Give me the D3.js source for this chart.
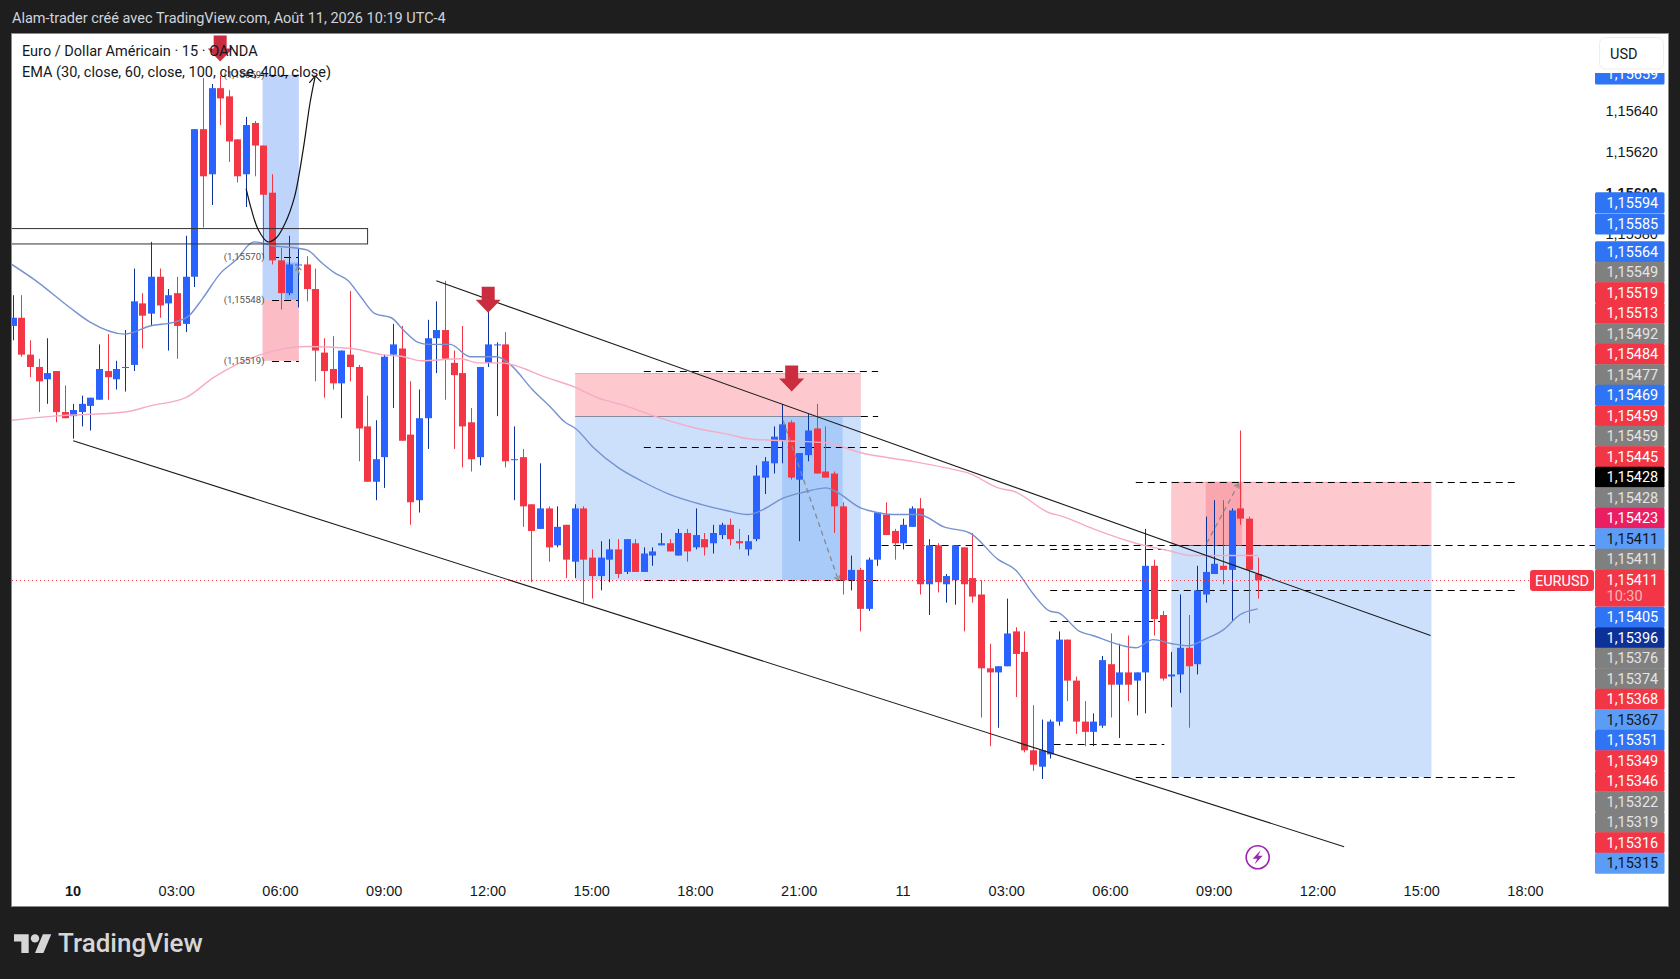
<!DOCTYPE html>
<html>
<head>
<meta charset="utf-8">
<script src="https://cdn.jsdelivr.net/npm/d3@7"></script>
<style>
  html, body { margin: 0; padding: 0; background: #1e1e1e; }
  svg { display: block; font-family: Roboto, sans-serif; }
  .tick text { fill: #131722; font-size: 14.5px; }
  .tick.major text { font-weight: 700; }
</style>
</head>
<body>
<div id="chart"></div>
<script>
// prices are in points: 15535 means 1,15535
var firstBar = -7;

var opens = [
  15535,15539,15521,15515,15509,15513,15493,15491,15493,15496,
  15499,15513,15509,15515,15516,15546,15541,15559,15546,15551,
  15536,15559,15631,15609,15651,15647,15626,15609,15634,15623,
  15600,15567,15551,15565,15565,15553,15522,15514,15507,15521,
  15515,15486,15459,15471,15521,15524,15482,15450,15490,15529,
  15533,15517,15512,15488,15471,15517,15526,15526,15470,15471,
  15448,15436,15446,15428,15438,15420,15446,15422,15413,15421,
  15426,15415,15429,15415,15423,15428,15429,15423,15434,15427,
  15431,15429,15433,15438,15430,15426,15431,15461,15468,15479,
  15488,15460,15472,15485,15464,15463,15447,15411,15416,15397,
  15421,15443,15435,15429,15437,15446,15409,15428,15409,15411,
  15427,15412,15404,15368,15366,15369,15386,15376,15328,15320,
  15326,15342,15382,15362,15342,15337,15340,15370,15360,15366,
  15362,15366,15418,15394,15364,15365,15378,15370,15404,15414,
  15418,15416,15446,15441,15414];
var highs = [
  15550,15550,15528,15519,15529,15513,15506,15497,15501,15500,
  15526,15531,15518,15533,15563,15551,15576,15563,15553,15559,
  15579,15631,15656,15653,15657,15650,15626,15637,15635,15623,
  15609,15573,15579,15573,15569,15563,15529,15530,15523,15552,
  15516,15501,15489,15521,15536,15535,15508,15504,15538,15547,
  15557,15523,15535,15495,15515,15542,15527,15532,15486,15475,
  15448,15468,15447,15447,15438,15448,15447,15426,15430,15431,
  15431,15431,15431,15427,15427,15434,15431,15436,15436,15446,
  15434,15438,15439,15441,15436,15433,15467,15471,15486,15497,
  15489,15473,15492,15497,15486,15464,15449,15423,15417,15422,
  15444,15449,15436,15441,15447,15451,15431,15429,15414,15428,
  15427,15434,15411,15380,15369,15402,15388,15386,15350,15343,
  15343,15386,15382,15364,15352,15346,15374,15385,15380,15384,
  15366,15436,15421,15396,15376,15404,15394,15418,15442,15450,
  15450,15446,15484,15442,15422];
var lows = [
  15528,15520,15510,15493,15497,15488,15490,15480,15486,15484,
  15499,15499,15504,15503,15513,15524,15535,15539,15523,15519,
  15532,15554,15583,15594,15633,15615,15605,15593,15608,15568,
  15565,15543,15550,15544,15547,15508,15500,15504,15490,15508,
  15469,15459,15450,15456,15495,15479,15438,15444,15475,15512,
  15499,15475,15466,15464,15467,15515,15491,15466,15450,15437,
  15410,15436,15420,15427,15412,15412,15400,15402,15406,15410,
  15412,15414,15415,15415,15418,15428,15425,15423,15420,15426,
  15423,15424,15431,15428,15426,15423,15430,15453,15463,15468,
  15460,15430,15469,15463,15461,15434,15404,15406,15386,15396,
  15418,15433,15421,15426,15437,15404,15394,15405,15400,15399,
  15386,15400,15344,15330,15339,15369,15354,15327,15318,15314,
  15324,15340,15352,15336,15330,15330,15339,15344,15334,15352,
  15345,15346,15384,15362,15349,15356,15339,15365,15400,15414,
  15409,15391,15438,15390,15402];
var closes = [
  15539,15521,15515,15508,15512,15493,15490,15494,15497,15500,
  15514,15510,15514,15515,15547,15540,15559,15545,15550,15535,
  15559,15631,15608,15651,15646,15625,15608,15633,15623,15599,
  15567,15551,15565,15565,15553,15523,15513,15507,15523,15515,
  15485,15459,15470,15520,15526,15479,15449,15490,15529,15533,
  15519,15511,15486,15470,15515,15526,15526,15469,15470,15447,
  15435,15446,15427,15437,15421,15446,15421,15413,15422,15426,
  15414,15431,15415,15424,15425,15429,15425,15434,15425,15433,
  15427,15434,15438,15431,15429,15430,15462,15469,15481,15487,
  15461,15473,15484,15463,15461,15447,15411,15416,15397,15421,
  15444,15433,15429,15438,15446,15409,15428,15410,15413,15428,
  15409,15403,15368,15366,15369,15385,15375,15328,15321,15328,
  15342,15382,15362,15342,15337,15342,15372,15360,15366,15360,
  15366,15418,15392,15363,15365,15378,15369,15406,15415,15419,
  15416,15445,15441,15416,15411];

// EMA lines at these bars
var emaFastBars = [-7.1,-4.3,-0.4,1.9,6,8.9,11.8,13.4,14.9,17.1,18.8,20.9,23.3,25.8,27.1,28.7,30.2,31.8,33.3,34.9,36.8,38.2,39.9,41.1,43.6,45.9,49,50.6,53.1,55.3,56.9,58.1,60.1,63,65.9,68.9,72.6,75.5,78,79.6,82.1,84.6,87.1,88.3,91.2,92,94.9,97.8,100.7,103.7,107,109,111.1,112.9,114,116.4,117.9,122.9,124.9,127.1,129,130.8,133.1,134.9,137];
var emaFastValues = [15565,15557,15544,15537,15531,15535,15537,15540,15548,15561,15567,15576,15574,15573,15572,15566,15561,15557,15549,15541,15539,15533,15527,15526,15526,15520,15520,15516,15504,15495,15488,15485,15476,15466,15459,15453,15448,15445,15443,15445,15451,15454,15456,15454,15446,15445,15443,15443,15437,15434,15421,15416,15404,15396,15395,15386,15384,15378,15382,15380,15379,15382,15387,15394,15397];
var emaSlowBars = [-7.1,-2.3,6,8.9,13,16.3,18.8,21.7,27,32.2,35.7,38.2,40.3,44.8,46.9,49.4,52.3,54,58.1,60.6,63.9,67.2,72.2,75.9,78,82.1,87.1,91.2,97,100.7,103.7,107,109,112.8,114.5,118,122.9,127.1,129.2,133.3,137];
var emaSlowValues = [15489,15491,15493,15496,15500,15510,15516,15521,15525,15524,15521,15520,15518,15519,15517,15517,15514,15511,15505,15500,15496,15491,15485,15482,15480,15479,15478,15473,15469,15466,15463,15456,15454,15444,15442,15436,15429,15425,15423,15423,15423];

var timeTickBars = [0,12,24,36,48,60,72,84,96,108,120,132,144,156,168];
var timeTickLabels = ["10","03:00","06:00","09:00","12:00","15:00","18:00","21:00","11","03:00","06:00","09:00","12:00","15:00","18:00"];
var priceTicks = [15640,15620,15600,15580];

// order of the price tags on the right, top to bottom
var tagPricesTop = [15594,15585];
var tagColorsTop = ["#2e74f5","#2e74f5"];
var tagPrices = [15564,15549,15519,15513,15492,15484,15477,15469,15459,15459,15445,15428,15428,15423,15411,15411,15411,15405,15396,15376,15374,15368,15367,15351,15349,15346,15322,15319,15316,15315];
var tagColors = ["#2e74f5","#808080","#f23645","#f23645","#808080","#f23645","#808080","#2e74f5","#f23645","#808080","#f23645","#000000","#808080","#e91e63","#5b9cf6","#808080","#f23645","#2e74f5","#0c3299","#808080","#808080","#f23645","#5b9cf6","#2e74f5","#f23645","#f23645","#808080","#808080","#f23645","#5b9cf6"];

// first box: printed labels and the heights they sit at on the picture
var boxLabels = ["(1,15659)","(1,15570)","(1,15548)","(1,15519)"];
var boxLabelLevels = [15657.6,15568.8,15547.7,15518];

var curvePriceBars = [20,20.6,21.4,22.5,23.5,24.5,25.6,26.6,27.4,28];
var curvePrices = [15602,15592,15582,15576,15578,15585,15598,15621,15644,15657];

var svgWidth = 1680;
var svgHeight = 979;
var plot = { left: 12, top: 34, right: 1595, bottom: 906, edge: 1668 };

var svg = d3.select("#chart").append("svg")
  .attr("width", svgWidth)
  .attr("height", svgHeight);

var x = d3.scaleLinear().domain([0, 168]).range([73.2, 1525.7]);
var y = d3.scaleLinear().domain([15640, 15620]).range([110.7, 151.7]);
var fmt = function(p) { return (1 + p / 100000).toFixed(5).replace(".", ","); };

// page furniture
svg.append("rect").attr("x", plot.left - 0.5).attr("y", plot.top - 0.5)
  .attr("width", plot.edge - plot.left + 1).attr("height", plot.bottom - plot.top + 1)
  .attr("fill", "#fff").attr("stroke", "#8a8a8a");

svg.append("text").attr("x", 12).attr("y", 22.5)
  .attr("fill", "#d1d4dc").attr("font-size", 14.5)
  .text("Alam-trader créé avec TradingView.com, Août 11, 2026 10:19 UTC-4");

svg.append("clipPath").attr("id", "plotClip").append("rect")
  .attr("x", plot.left).attr("y", plot.top)
  .attr("width", plot.right - plot.left).attr("height", plot.bottom - plot.top);

var g = svg.append("g").attr("clip-path", "url(#plotClip)");

function box(b0, b1, p0, p1, color) {
  g.append("rect")
    .attr("x", x(b0)).attr("width", x(b1) - x(b0))
    .attr("y", y(p0)).attr("height", y(p1) - y(p0))
    .attr("fill", color);
}
function hline(b0, b1, p, color, dash) {
  g.append("line")
    .attr("x1", x(b0)).attr("x2", x(b1))
    .attr("y1", Math.round(y(p)) + 0.5).attr("y2", Math.round(y(p)) + 0.5)
    .attr("stroke", color || "#000")
    .attr("stroke-dasharray", dash === undefined ? "7 5" : dash);
}

// position boxes
box(21.9, 26.1, 15657.6, 15547.7, "#bfd4fb");
box(24.5, 26.1, 15566, 15547.7, "#8fb6f8");
box(21.9, 26.1, 15547.7, 15518, "#fbbcc5");

box(58.06, 91.1, 15512, 15491, "#fdc8ce");
box(58.06, 91.1, 15491, 15411, "#cce0fc");
box(82, 89, 15491, 15411, "#a8cbfa");
hline(58.06, 91.1, 15512, "#fba4b0", null);
hline(58.06, 91.1, 15491, "#858a9c", null);

box(127, 157.1, 15459, 15428, "#fdc8ce");
box(131, 135.2, 15459, 15428, "#f9a6ae");
box(127, 157.1, 15428, 15315, "#cce0fc");
hline(127, 157.1, 15459, "#fba4b0", null);
hline(127, 157.1, 15428, "#555a6c", null);

// dashed levels of the boxes
[[23, 26.1, 15568.8], [23, 26.1, 15547.7], [23, 26.1, 15518], [19.9, 26.1, 15657.6],
 [66, 93.1, 15513], [91.1, 93.1, 15491], [66, 93.1, 15476], [66, 93.1, 15411],
 [122.9, 166.9, 15459], [93.5, 178.6, 15428], [113, 126.5, 15426], [113, 126.2, 15406],
 [122.9, 166.9, 15406], [113, 126.2, 15391], [113.4, 126.2, 15331], [122.9, 166.9, 15315]
].forEach(function(d) { hline(d[0], d[1], d[2]); });

// candles
var bars = opens.map(function(o, i) {
  return { bar: i + firstBar, o: o, h: highs[i], l: lows[i], c: closes[i] };
});
var candle = g.append("g").selectAll("g").data(bars).enter().append("g");

candle.append("line")
  .attr("x1", function(d) { return Math.round(x(d.bar)) + 0.5; })
  .attr("x2", function(d) { return Math.round(x(d.bar)) + 0.5; })
  .attr("y1", function(d) { return y(d.h); })
  .attr("y2", function(d) { return y(d.l); })
  .attr("stroke", function(d) { return d.c >= d.o ? "#0c3299" : "#f23645"; });

candle.append("rect")
  .attr("x", function(d) { return Math.round(x(d.bar)) - 3; })
  .attr("width", 7)
  .attr("y", function(d) { return y(Math.max(d.o, d.c)); })
  .attr("height", function(d) { return Math.max(1, Math.abs(y(d.o) - y(d.c))); })
  .attr("fill", function(d) { return d.c >= d.o ? "#2962ff" : "#f23645"; });

// EMA lines
var emaLine = d3.line()
  .x(function(d) { return x(d[0]); })
  .y(function(d) { return y(d[1]); })
  .curve(d3.curveMonotoneX);

g.append("path")
  .attr("d", emaLine(emaFastBars.map(function(b, i) { return [b, emaFastValues[i]]; })))
  .attr("fill", "none").attr("stroke", "#7492cf").attr("stroke-width", 1.4);
g.append("path")
  .attr("d", emaLine(emaSlowBars.map(function(b, i) { return [b, emaSlowValues[i]]; })))
  .attr("fill", "none").attr("stroke", "#f6abc4").attr("stroke-width", 1.4);

// last price line
hline(-8, 170.5, 15411, "#f23645", "1 3");

// trend lines and drawn rectangle
[[42, 15557, 157, 15384], [0, 15479, 147, 15281]].forEach(function(d) {
  g.append("line")
    .attr("x1", x(d[0])).attr("y1", y(d[1]))
    .attr("x2", x(d[2])).attr("y2", y(d[3]))
    .attr("stroke", "#1a1a1a").attr("stroke-width", 1.1);
});
g.append("rect")
  .attr("x", plot.left - 2).attr("width", x(34.05) - plot.left + 2)
  .attr("y", y(15582.5)).attr("height", y(15575) - y(15582.5))
  .attr("fill", "none").attr("stroke", "#333");

// dashed projections
function projection(b0, p0, b1, p1) {
  g.append("line")
    .attr("x1", x(b0)).attr("y1", y(p0)).attr("x2", x(b1)).attr("y2", y(p1))
    .attr("stroke", "#8a8a8a").attr("stroke-width", 1.3).attr("stroke-dasharray", "5 4");
  var a = Math.atan2(y(p1) - y(p0), x(b1) - x(b0));
  [-0.6, 0.6].forEach(function(t) {
    g.append("line")
      .attr("x1", x(b1)).attr("y1", y(p1))
      .attr("x2", x(b1) - 5 * Math.cos(a + t)).attr("y2", y(p1) - 5 * Math.sin(a + t))
      .attr("stroke", "#8a8a8a").attr("stroke-width", 1.3);
  });
}
projection(82.1, 15489, 88.5, 15411);
projection(131.1, 15429, 134.8, 15458);
projection(26.15, 15560, 25.95, 15564);

// hand drawn curve with arrow head
var curve = d3.line()
  .x(function(d) { return x(d[0]); })
  .y(function(d) { return y(d[1]); })
  .curve(d3.curveCatmullRom);
g.append("path")
  .attr("d", curve(curvePriceBars.map(function(b, i) { return [b, curvePrices[i]]; })))
  .attr("fill", "none").attr("stroke", "#111").attr("stroke-width", 1.2);
[[-6, 7], [6, 6]].forEach(function(d) {
  g.append("line")
    .attr("x1", x(28)).attr("y1", y(15657))
    .attr("x2", x(28) + d[0]).attr("y2", y(15657) + d[1])
    .attr("stroke", "#111").attr("stroke-width", 1.2);
});

// level labels of the first box
boxLabels.forEach(function(label, i) {
  g.append("text").attr("x", 264.5).attr("y", y(boxLabelLevels[i]) + 3.5)
    .attr("text-anchor", "end").attr("fill", "#555").attr("font-size", 9.6)
    .text(label);
});

// red arrows
[[17, 15664], [48, 15541.5], [83.1, 15503]].forEach(function(d) {
  var cx = x(d[0]), tip = y(d[1]);
  g.append("path")
    .attr("d", "M" + (cx - 6.5) + "," + (tip - 26) + "H" + (cx + 6.5) + "V" + (tip - 13)
      + "H" + (cx + 12.5) + "L" + cx + "," + tip + "L" + (cx - 12.5) + "," + (tip - 13)
      + "H" + (cx - 6.5) + "Z")
    .attr("fill", "#c92d3f");
});

// lightning marker
var bolt = g.append("g").attr("transform", "translate(" + x(137) + ",857.3)");
bolt.append("circle").attr("r", 11.5).attr("fill", "#fff").attr("stroke", "#9c27b0").attr("stroke-width", 1.6);
bolt.append("path").attr("d", "M3,-7L-5,1.5H-0.5L-3,7L5,-1.5H0.5Z").attr("fill", "#9c27b0");

// legend
svg.append("text").attr("x", 22).attr("y", 56).attr("fill", "#131722").attr("font-size", 14.5)
  .text("Euro / Dollar Américain · 15 · OANDA");
svg.append("text").attr("x", 22).attr("y", 77).attr("fill", "#131722").attr("font-size", 14.5)
  .text("EMA (30, close, 60, close, 100, close, 400, close)");

// axes
var timeAxis = d3.axisBottom(x)
  .tickValues(timeTickBars)
  .tickFormat(function(d, i) { return timeTickLabels[i]; })
  .tickSize(0).tickPadding(0);
svg.append("g").attr("transform", "translate(-0.7,886)").call(timeAxis)
  .call(function(a) { a.select(".domain").remove(); })
  .selectAll(".tick").classed("major", function(d) { return d === 0; });

var priceAxis = d3.axisRight(y)
  .tickValues(priceTicks).tickFormat(fmt)
  .tickSize(0).tickPadding(10.5);
svg.append("g").attr("transform", "translate(" + plot.right + ",0)").call(priceAxis)
  .call(function(a) { a.select(".domain").remove(); })
  .selectAll(".tick").classed("major", function(d) { return d === 15600; });

// price tags
var tagClip = svg.append("clipPath").attr("id", "tagClip").append("rect")
  .attr("x", plot.right).attr("y", 73).attr("width", 72).attr("height", 840);
var tagLayer = svg.append("g").attr("clip-path", "url(#tagClip)");

function tag(p, cy, color, h) {
  var tall = h || 21;
  tagLayer.append("rect")
    .attr("x", plot.right).attr("y", cy - 10.5).attr("width", 69.5).attr("height", tall)
    .attr("rx", 1.5).attr("fill", color);
  tagLayer.append("text")
    .attr("x", 1606.5).attr("y", cy + 5)
    .attr("fill", color === "#5b9cf6" ? "#131722" : (color === "#808080" ? "#e4e4e4" : "#fff"))
    .attr("font-size", 14.5)
    .text(fmt(p));
}

tag(15659, 74, "#2e74f5");
tagPricesTop.forEach(function(p, i) {
  tag(p, y(15594) - 2.3 + i * 21.3, tagColorsTop[i]);
});

var cy = y(15564) - 14.8;
tagPrices.forEach(function(p, i) {
  var live = i === 16;
  tag(p, cy, tagColors[i], live ? 37.5 : 21);
  if (live) {
    tagLayer.append("text").attr("x", 1606.5).attr("y", cy + 21.5)
      .attr("fill", "#fbb4ba").attr("font-size", 14.5).text("10:30");
  }
  cy += live ? 37.5 : 20.5;
});

// symbol tag
svg.append("rect").attr("x", 1530).attr("y", 570).attr("width", 64).attr("height", 21)
  .attr("rx", 3).attr("fill", "#f23645");
svg.append("text").attr("x", 1562).attr("y", 585.5).attr("text-anchor", "middle")
  .attr("fill", "#fff").attr("font-size", 14.5).text("EURUSD");

// currency button
svg.append("rect").attr("x", 1599.5).attr("y", 37.5).attr("width", 64).attr("height", 31.5)
  .attr("rx", 6).attr("fill", "#fff").attr("stroke", "#eeeeee");
svg.append("text").attr("x", 1610).attr("y", 58.5).attr("fill", "#131722").attr("font-size", 14.5).text("USD");

// footer logo
var logo = svg.append("g").attr("transform", "translate(14,930) scale(1.05)").attr("fill", "#d6d6d6");
logo.append("path").attr("d", "M14 22H7V11H0V4h14v18zM28 22h-8l7.5-18h8L28 22z");
logo.append("circle").attr("cx", 20).attr("cy", 8).attr("r", 4);
svg.append("text").attr("x", 58).attr("y", 951.5).attr("fill", "#d6d6d6")
  .attr("font-size", 26).attr("font-weight", 500).text("TradingView");
</script>
</body>
</html>
